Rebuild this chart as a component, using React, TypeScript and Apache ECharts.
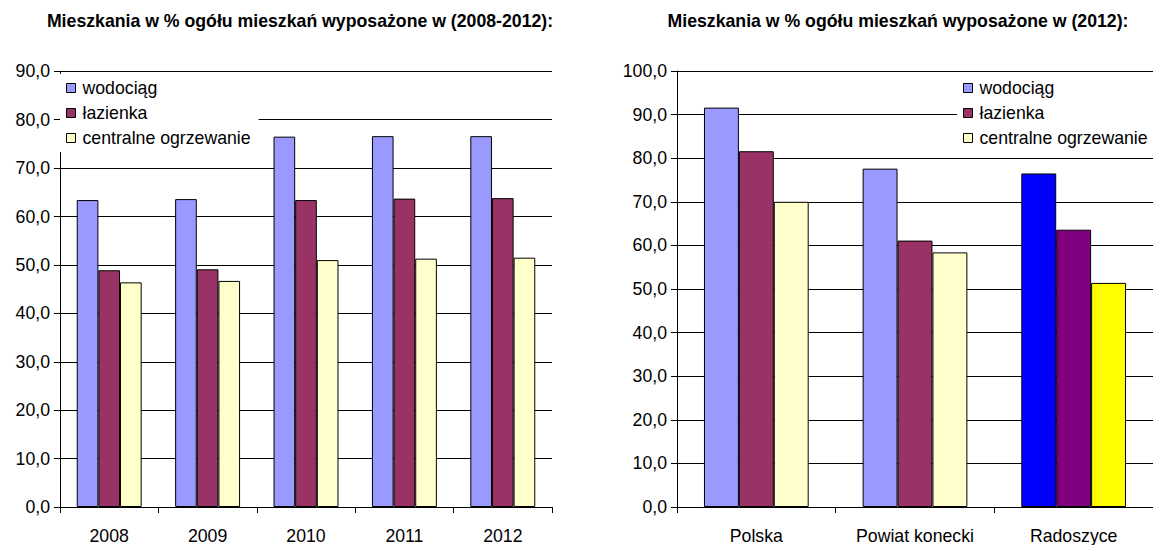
import React, { useEffect, useRef } from "react";
import * as echarts from "echarts";

const seriesNames = ["wodociąg", "łazienka", "centralne ogrzewanie"];
const seriesColors = ["#9999FF", "#993366", "#FFFFCC"];
const highlightColors = ["#0000FF", "#800080", "#FFFF00"];

const leftTitle = "Mieszkania w % ogółu mieszkań wyposażone w (2008-2012):";
const rightTitle = "Mieszkania w % ogółu mieszkań wyposażone w (2012):";

const years = ["2008", "2009", "2010", "2011", "2012"];
const yearsWodociag = [63.4, 63.6, 76.5, 76.6, 76.6];
const yearsLazienka = [48.9, 49.1, 63.4, 63.7, 63.8];
const yearsCO = [46.4, 46.7, 51.0, 51.3, 51.5];

const regions = ["Polska", "Powiat konecki", "Radoszyce"];
const regionsWodociag = [91.6, 77.6, 76.5];
const regionsLazienka = [81.6, 61.1, 63.6];
const regionsCO = [70.0, 58.4, 51.4];
const highlightRegion = "Radoszyce";

const FONT = "'Liberation Sans', Arial, sans-serif";
const FS = 17.7;

const fmt = (v: number) => v.toFixed(1).replace(".", ",");

export default function App() {
  const ref = useRef<HTMLDivElement>(null);
  useEffect(() => {
    document.body.style.margin = "0";
    const chart = echarts.init(ref.current!, null, { renderer: "svg" });
    const leftData = [yearsWodociag, yearsLazienka, yearsCO];
    const rightData = [regionsWodociag, regionsLazienka, regionsCO];

    const axisLabel = { fontSize: FS, fontFamily: FONT, color: "#000" };
    const yAxisCommon = {
      type: "value",
      min: 0,
      interval: 10,
      axisLine: { show: true, lineStyle: { color: "#000", width: 1 } },
      axisTick: { show: true, length: 6, lineStyle: { color: "#000" } },
      splitLine: { show: true, lineStyle: { color: "#000", width: 1 } },
      axisLabel: { ...axisLabel, margin: 10, formatter: (v: number) => fmt(v) },
    };
    const xAxisCommon = {
      type: "category",
      boundaryGap: true,
      axisLine: { show: true, lineStyle: { color: "#000", width: 1 } },
      axisTick: { show: true, length: 6, alignWithLabel: false, lineStyle: { color: "#000" } },
      axisLabel: { ...axisLabel, margin: 20 },
    };
    const legendCommon = {
      orient: "vertical",
      padding: [5, 8, 5, 6],
      itemGap: 7,
      itemWidth: 9,
      itemHeight: 9,
      backgroundColor: "#fff",
      icon: "rect",
      z: 10,
      textStyle: { fontSize: FS, fontFamily: FONT, color: "#000", padding: [0, 0, 0, 2] },
      itemStyle: { borderColor: "#000", borderWidth: 1 },
      data: seriesNames,
      selectedMode: false,
    };

    const series: any[] = [];
    seriesNames.forEach((name, i) => {
      series.push({
        name,
        type: "bar",
        xAxisIndex: 0,
        yAxisIndex: 0,
        data: leftData[i],
        barGap: "0%",
        barCategoryGap: "34%",
        itemStyle: { color: seriesColors[i], borderColor: "#000", borderWidth: 1 },
      });
    });
    seriesNames.forEach((name, i) => {
      series.push({
        name,
        type: "bar",
        xAxisIndex: 1,
        yAxisIndex: 1,
        data: rightData[i].map((v, j) =>
          regions[j] === highlightRegion
            ? { value: v, itemStyle: { color: highlightColors[i] } }
            : v
        ),
        barGap: "0%",
        barCategoryGap: "34%",
        itemStyle: { color: seriesColors[i], borderColor: "#000", borderWidth: 1 },
      });
    });

    chart.setOption({
      animation: false,
      backgroundColor: "#fff",
      textStyle: { fontFamily: FONT },
      grid: [
        { left: 60, top: 71.3, width: 492, height: 438.4 },
        { left: 677, top: 71, width: 478, height: 438.7 },
      ],
      xAxis: [
        { ...xAxisCommon, gridIndex: 0, data: years },
        { ...xAxisCommon, gridIndex: 1, data: regions },
      ],
      yAxis: [
        { ...yAxisCommon, gridIndex: 0, max: 90 },
        { ...yAxisCommon, gridIndex: 1, max: 100 },
      ],
      legend: [
        { ...legendCommon, left: 60, top: 74 },
        { ...legendCommon, left: 957, top: 74 },
      ],
      graphic: [
        {
          type: "text",
          x: 300,
          y: 21,
          style: {
            text: leftTitle,
            font: `bold ${FS}px ${FONT}`,
            fill: "#000",
            textAlign: "center",
            textVerticalAlign: "middle",
          },
        },
        {
          type: "text",
          x: 898,
          y: 21,
          style: {
            text: rightTitle,
            font: `bold ${FS}px ${FONT}`,
            fill: "#000",
            textAlign: "center",
            textVerticalAlign: "middle",
          },
        },
      ],
      series,
    });
    return () => chart.dispose();
  }, []);
  return (
    <div
      ref={ref}
      style={{ position: "absolute", left: 0, top: 0, width: 1153, height: 545 }}
    />
  );
}
